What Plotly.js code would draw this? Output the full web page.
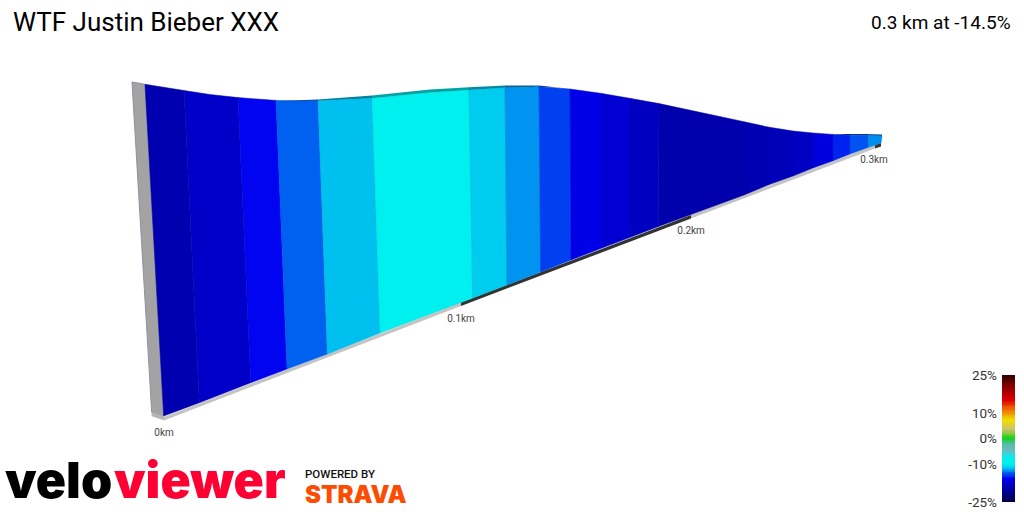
<!DOCTYPE html>
<html><head><meta charset="utf-8">
<script src="https://cdn.plot.ly/plotly-3.0.1.min.js"></script>
<style>html,body{margin:0;padding:0;background:#fff}#c{width:1024px;height:512px}</style>
</head><body><div id="c"></div>
<script>
// Projected road edge
var profX =[145,165,184,210,238,258,276,298,318,345,372,400,430,469,487,505,522,539,555,570,586,602,617,631,645,659,690,717,744,768,793,813,833,850,868,882];
var profY =[84.3,87.6,90.5,94.5,97.6,99.4,100.4,101,100.7,99.8,98.3,95.6,92.5,90,88.8,87.8,87.2,86.8,87.6,89,91,93.5,96,98.5,101,103.6,110,116,121.7,127,131,133,134.4,135.3,135.5,136];
var backY =[84.3,87.6,90.5,94.5,97.6,99.4,100.2,100.3,99.6,97.8,95.4,92.6,89.6,87.3,86.2,85.6,85.4,85.6,87,88.6,91,93.5,96,98.5,101,103.6,110,116,121.7,127,131,133,134,134,134,134.5];
// Section boundaries
var topX  =[145,184,238,276,318,372,469,505,539,570,602,631,659,744,768,793,813,833,850,868,882];
var botX  =[163.7,199.3,250.7,287,327.3,380,472.7,507,540.6,571,602,631,658.5,744,768,793,813,833,850,868,881];
var botY  =[416,402.7,382.7,369,354,333,298,285,272,260,248,237,226.5,195,185,176,168,160.7,154,147.5,143];
var gradients=[-19.5,-18,-15.9,-13.5,-12,-10,-11.5,-12.7,-14.5,-16.4,-17.5,-18.5,-19.7,-19.4,-19,-18.4,-17,-15.2,-13.9,-12.8];

// Colour key
var scaleZ=[-25,-20,-18,-16,-14.5,-13.5,-12,-10,-7.7,-4.5,-2,0,1,3.3,7.3,10,12,15,21,25];
var scaleC=['#000048','#0000a8','#0000c8','#0000f0','#0040f0','#0060f0','#00c0f0','#00f0f0','#00f0f0','#70b8c0','#50c0a0','#10d020','#50d020','#c8c070','#f0e000','#f09000','#f06000','#e00000','#800000','#2a0000'];
var keyTicks=[25,10,0,-10,-25];
var keyLabels=['25%','10%','0%','-10%','-25%'];

// Distance markers along the base
var kmX=[164,461,691,874], kmY=[433,319,231,160], kmText=['0km','0.1km','0.2km','0.3km'];
var baseX=[164,461,691,875,881], baseY=[417,302.5,215,145,143];
var baseCol=['#c4c4c4','#333333','#c4c4c4','#333333'];

// Side wall of the start of the climb
var wallX=[132,145,163.7,151.7], wallY=[82,84.3,416,412];
var footX=[151.7,163.7,164,152], footY=[412,416,420,416];

var title='WTF Justin Bieber XXX', stats='0.3 km at -14.5%';

function hex(c){return [1,3,5].map(function(i){return parseInt(c.substr(i,2),16)});}
function colorOf(g,f){
  f=f||1;
  for(var i=0;i<scaleZ.length-1;i++){ if(g<=scaleZ[i+1]){
    var t=Math.max(0,(g-scaleZ[i])/(scaleZ[i+1]-scaleZ[i])),a=hex(scaleC[i]),b=hex(scaleC[i+1]);
    return 'rgb('+[0,1,2].map(function(k){return Math.round((a[k]+(b[k]-a[k])*t)*f)}).join(',')+')';
  }}
  return scaleC[scaleC.length-1];
}
function poly(xs,ys,fill,line,w){
  return {type:'scatter',mode:'lines',x:xs.concat(xs[0]),y:ys.concat(ys[0]),fill:'toself',fillcolor:fill,
    line:{color:line||fill,width:w===undefined?0.5:w},hoverinfo:'skip',showlegend:false};
}
var traces=[];
traces.push(poly(wallX,wallY,'#a3a3a3','#8f8fa8',1));
traces.push(poly(footX,footY,'#b5b5b5','#aaaaaa',0.5));
for(var b=0;b<baseCol.length;b++){
  var ex=baseX[b+1],ey=baseY[b+1];
  traces.push(poly([baseX[b],ex,ex,baseX[b]],[baseY[b],ey,ey+3.5,baseY[b]+3.5],baseCol[b],baseCol[b],0));
}
for(var s=0;s<gradients.length;s++){
  var c=colorOf(gradients[s]), ix=[];
  for(var p=0;p<profX.length;p++){ if(profX[p]>=topX[s]&&profX[p]<=topX[s+1]) ix.push(p); }
  var tx=ix.map(function(i){return profX[i]}), ty=ix.map(function(i){return profY[i]}), by=ix.map(function(i){return backY[i]});
  traces.push(poly(tx.concat([botX[s+1],botX[s]]),ty.concat([botY[s+1],botY[s]]),c,colorOf(gradients[s],0.88),0.5));
  var gap=ix.some(function(i){return backY[i]<profY[i]-0.1});
  if(gap){
    var dk=colorOf(gradients[s],0.68);
    traces.push(poly(tx.concat(tx.slice().reverse()),by.concat(ty.slice().reverse()),dk,dk,0));
  }
}
traces.push({type:'scatter',mode:'text',x:kmX,y:kmY,text:kmText,textposition:'middle center',
  textfont:{family:'Roboto',size:10,color:'#444'},hoverinfo:'skip',showlegend:false});

// Colour key
var keyZ=[];for(var z=-25;z<=25;z+=0.5)keyZ.push(z);
traces.push({type:'heatmap',xaxis:'x2',yaxis:'y2',x:[0],y:keyZ,z:keyZ.map(function(v){return [v]}),
  zmin:-25,zmax:25,showscale:false,hoverinfo:'skip',
  colorscale:scaleZ.map(function(v,i){return [(v+25)/50,scaleC[i]]})});

var stroke='0.7px 0 0 currentColor';
var layout={width:1024,height:512,margin:{l:0,r:0,t:0,b:0},paper_bgcolor:'#fff',plot_bgcolor:'#fff',showlegend:false,
  xaxis:{range:[0,1024],visible:false,fixedrange:true,domain:[0,1]},
  yaxis:{range:[512,0],visible:false,fixedrange:true,domain:[0,1]},
  xaxis2:{domain:[1002/1024,1015/1024],range:[-0.5,0.5],visible:false,anchor:'y2'},
  yaxis2:{domain:[10/512,137/512],range:[-25,25],anchor:'x2',side:'left',tickmode:'array',tickvals:keyTicks,ticktext:keyLabels,
    ticks:'',ticklabelstandoff:4,showgrid:false,zeroline:false,showline:false,tickfont:{family:'Roboto',size:13.5,color:'#333'}},
  annotations:[
   {xref:'paper',yref:'paper',x:11/1024,y:1-22/512,xanchor:'left',yanchor:'middle',showarrow:false,text:title,
    font:{family:'Roboto',size:26,color:'#000'}},
   {xref:'paper',yref:'paper',x:1013/1024,y:1-22/512,xanchor:'right',yanchor:'middle',showarrow:false,text:stats,
    font:{family:'Roboto',size:19,color:'#000'}},
   {xref:'paper',yref:'paper',x:3/1024,y:1-480/512,xanchor:'left',yanchor:'middle',showarrow:false,text:'velo',
    font:{family:'Inter',size:50,weight:900,color:'#000'}},
   {xref:'paper',yref:'paper',x:288/1024,y:1-480/512,xanchor:'right',yanchor:'middle',showarrow:false,text:'viewer',
    font:{family:'Inter',size:50,weight:900,color:'#ff0033'}},
   {xref:'paper',yref:'paper',x:303/1024,y:1-474/512,xanchor:'left',yanchor:'middle',showarrow:false,text:'POWERED BY',
    font:{family:'Roboto',size:11.5,weight:500,color:'#111'}},
   {xref:'paper',yref:'paper',x:303/1024,y:1-494/512,xanchor:'left',yanchor:'middle',showarrow:false,text:'STRAVA',
    font:{family:'Inter',size:24,weight:900,color:'#fc4c02'}}
  ]};
Plotly.newPlot('c',traces,layout,{displayModeBar:false,staticPlot:true});
</script></body></html>
